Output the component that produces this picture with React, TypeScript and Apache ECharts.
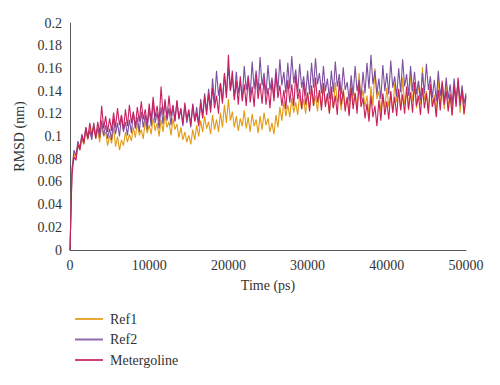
import React, { useEffect, useRef } from "react";
import * as echarts from "echarts";

const STEP_PS = 250;

const ref1: number[] = [
  0, 0.072, 0.085, 0.08, 0.092, 0.088, 0.098, 0.093, 0.104, 0.097,
  0.108, 0.1, 0.112, 0.098, 0.106, 0.095, 0.11, 0.1, 0.104, 0.092,
  0.101, 0.094, 0.108, 0.091, 0.1, 0.088, 0.097, 0.092, 0.104, 0.095,
  0.102, 0.096, 0.108, 0.099, 0.112, 0.101, 0.106, 0.098, 0.114, 0.103,
  0.11, 0.102, 0.117, 0.105, 0.112, 0.1, 0.115, 0.104, 0.119, 0.108,
  0.113, 0.101, 0.116, 0.106, 0.111, 0.099, 0.108, 0.097, 0.104, 0.095,
  0.101, 0.093, 0.106, 0.097, 0.11, 0.1, 0.114, 0.104, 0.118, 0.107,
  0.113, 0.102, 0.119, 0.106, 0.115, 0.104, 0.121, 0.108, 0.128, 0.112,
  0.133, 0.114, 0.122, 0.108, 0.118, 0.105, 0.116, 0.109, 0.123, 0.107,
  0.117, 0.104, 0.12, 0.109, 0.115, 0.103, 0.118, 0.106, 0.121, 0.11,
  0.116, 0.104, 0.112, 0.102, 0.119, 0.108, 0.126, 0.114, 0.131, 0.118,
  0.128, 0.117, 0.134, 0.121, 0.13, 0.119, 0.137, 0.124, 0.133, 0.12,
  0.138, 0.124, 0.142, 0.127, 0.136, 0.122, 0.14, 0.126, 0.145, 0.129,
  0.135, 0.121, 0.139, 0.125, 0.148, 0.13, 0.137, 0.123, 0.142, 0.127,
  0.134, 0.12, 0.15, 0.128, 0.139, 0.124, 0.156, 0.131, 0.141, 0.126,
  0.136, 0.118, 0.144, 0.127, 0.16, 0.133, 0.14, 0.122, 0.137, 0.125,
  0.143, 0.126, 0.138, 0.121, 0.147, 0.13, 0.141, 0.124, 0.152, 0.128,
  0.139, 0.123, 0.158, 0.131, 0.143, 0.125, 0.149, 0.128, 0.161, 0.132,
  0.14, 0.122, 0.146, 0.128, 0.137, 0.119, 0.152, 0.127, 0.141, 0.124,
  0.148, 0.126, 0.138, 0.118, 0.145, 0.129, 0.15, 0.121, 0.142, 0.119, 0.134,
];

const ref2: number[] = [
  0, 0.07, 0.088, 0.083, 0.096, 0.09, 0.102, 0.095, 0.108, 0.098,
  0.105, 0.097, 0.112, 0.1, 0.108, 0.099, 0.114, 0.101, 0.11, 0.098,
  0.107, 0.097, 0.116, 0.102, 0.112, 0.1, 0.118, 0.104, 0.113, 0.101,
  0.115, 0.103, 0.121, 0.107, 0.117, 0.104, 0.122, 0.108, 0.119, 0.106,
  0.124, 0.109, 0.13, 0.112, 0.121, 0.107, 0.126, 0.111, 0.133, 0.114,
  0.125, 0.11, 0.128, 0.113, 0.131, 0.115, 0.124, 0.109, 0.127, 0.112,
  0.122, 0.108, 0.129, 0.114, 0.126, 0.111, 0.133, 0.118, 0.138, 0.122,
  0.142, 0.125, 0.151, 0.13, 0.158, 0.136, 0.147, 0.131, 0.155, 0.137,
  0.161, 0.14, 0.152, 0.134, 0.157, 0.138, 0.149, 0.133, 0.162, 0.141,
  0.154, 0.136, 0.166, 0.142, 0.158, 0.139, 0.17, 0.145, 0.156, 0.137,
  0.163, 0.141, 0.152, 0.134, 0.16, 0.14, 0.168, 0.145, 0.157, 0.138,
  0.165, 0.142, 0.171, 0.147, 0.159, 0.139, 0.164, 0.143, 0.153, 0.136,
  0.158, 0.137, 0.165, 0.143, 0.169, 0.146, 0.156, 0.138, 0.162, 0.14,
  0.151, 0.133, 0.158, 0.139, 0.166, 0.144, 0.155, 0.137, 0.161, 0.141,
  0.148, 0.131, 0.154, 0.136, 0.162, 0.14, 0.15, 0.133, 0.157, 0.138,
  0.165, 0.142, 0.172, 0.146, 0.158, 0.137, 0.151, 0.133, 0.163, 0.14,
  0.156, 0.137, 0.167, 0.143, 0.153, 0.135, 0.16, 0.139, 0.168, 0.144,
  0.155, 0.136, 0.162, 0.14, 0.157, 0.137, 0.149, 0.132, 0.156, 0.138,
  0.164, 0.141, 0.153, 0.134, 0.15, 0.131, 0.158, 0.136, 0.147, 0.13,
  0.152, 0.133, 0.146, 0.128, 0.151, 0.132, 0.148, 0.127, 0.145, 0.129, 0.138,
];

const metergoline: number[] = [
  0, 0.066, 0.082, 0.079, 0.093, 0.088, 0.101, 0.094, 0.108, 0.099,
  0.112, 0.101, 0.109, 0.098, 0.113, 0.103, 0.127, 0.107, 0.118, 0.104,
  0.116, 0.105, 0.121, 0.108, 0.125, 0.11, 0.119, 0.106, 0.124, 0.109,
  0.128, 0.112, 0.122, 0.108, 0.126, 0.113, 0.131, 0.115, 0.124, 0.111,
  0.129, 0.114, 0.135, 0.117, 0.127, 0.113, 0.144, 0.119, 0.131, 0.116,
  0.136, 0.118, 0.127, 0.114, 0.132, 0.116, 0.125, 0.111, 0.13, 0.115,
  0.124, 0.11, 0.128, 0.113, 0.121, 0.109, 0.13, 0.116, 0.135, 0.119,
  0.138, 0.121, 0.143, 0.125, 0.136, 0.12, 0.147, 0.129, 0.156, 0.134,
  0.172, 0.141, 0.158, 0.132, 0.149, 0.128, 0.153, 0.131, 0.146, 0.127,
  0.152, 0.13, 0.144, 0.126, 0.155, 0.133, 0.147, 0.129, 0.151, 0.128,
  0.143, 0.125, 0.149, 0.131, 0.156, 0.134, 0.145, 0.127, 0.141, 0.124,
  0.15, 0.13, 0.146, 0.127, 0.154, 0.133, 0.142, 0.124, 0.148, 0.128,
  0.139, 0.122, 0.145, 0.127, 0.152, 0.13, 0.141, 0.123, 0.147, 0.126,
  0.138, 0.12, 0.144, 0.125, 0.136, 0.119, 0.149, 0.128, 0.14, 0.122,
  0.135, 0.118, 0.143, 0.124, 0.138, 0.12, 0.146, 0.126, 0.134, 0.116,
  0.129, 0.113, 0.136, 0.117, 0.127, 0.109, 0.132, 0.114, 0.138, 0.119,
  0.131, 0.115, 0.14, 0.121, 0.135, 0.118, 0.142, 0.123, 0.137, 0.12,
  0.144, 0.124, 0.139, 0.121, 0.148, 0.127, 0.136, 0.119, 0.143, 0.125,
  0.138, 0.12, 0.146, 0.126, 0.134, 0.117, 0.141, 0.123, 0.149, 0.128,
  0.14, 0.122, 0.137, 0.119, 0.145, 0.126, 0.152, 0.13, 0.141, 0.12, 0.136,
];

const seriesNames = ["Ref1", "Ref2", "Metergoline"];
const seriesColors = ["#E39A14", "#7E4F9F", "#C8205E"];
const seriesValues = [ref1, ref2, metergoline];

const FONT = "'Liberation Serif', 'DejaVu Serif', serif";

export default function App() {
  const ref = useRef<HTMLDivElement>(null);
  useEffect(() => {
    if (!ref.current) return;
    const chart = echarts.init(ref.current, undefined, { renderer: "svg" });
    chart.setOption({
      animation: false,
      backgroundColor: "#ffffff",
      textStyle: { fontFamily: FONT },
      grid: { left: 70, right: 34, top: 23, bottom: 135 },
      legend: {
        orient: "vertical",
        left: 70,
        top: 307,
        height: 70,
        icon: "rect",
        itemWidth: 28,
        itemHeight: 2,
        itemGap: 6.5,
        itemStyle: { opacity: 0.85 },
        textStyle: { fontFamily: FONT, fontSize: 14, color: "#333", lineHeight: 14, padding: [0, 0, 0, 2] },
        data: seriesNames,
      },
      xAxis: {
        type: "value",
        min: 0,
        max: 50000,
        interval: 10000,
        name: "Time (ps)",
        nameLocation: "middle",
        nameGap: 28,
        nameTextStyle: { fontFamily: FONT, fontSize: 14, color: "#333" },
        axisLine: { show: true, lineStyle: { color: "#595959", width: 1 } },
        axisTick: { show: false },
        splitLine: { show: false },
        axisLabel: { fontFamily: FONT, fontSize: 14, color: "#333", margin: 8, formatter: (v: number) => String(v) },
      },
      yAxis: {
        type: "value",
        min: 0,
        max: 0.2,
        interval: 0.02,
        name: "RMSD (nm)",
        nameLocation: "middle",
        nameGap: 41,
        nameTextStyle: { fontFamily: FONT, fontSize: 14, color: "#333" },
        axisLine: { show: true, lineStyle: { color: "#595959", width: 1 } },
        axisTick: { show: false },
        splitLine: { show: false },
        axisLabel: {
          fontFamily: FONT,
          fontSize: 14,
          color: "#333",
          margin: 8,
          formatter: (v: number) => String(parseFloat(v.toFixed(2))),
        },
      },
      series: seriesValues.map((vals, k) => ({
        name: seriesNames[k],
        type: "line",
        showSymbol: false,
        symbol: "none",
        color: seriesColors[k],
        lineStyle: { width: 1.1, color: seriesColors[k] },
        data: vals.map((v, i) => [i * STEP_PS, v]),
        z: 2 + k,
      })),
    });
    return () => chart.dispose();
  }, []);
  return (
    <div
      ref={ref}
      style={{ position: "absolute", left: 0, top: 0, width: 500, height: 385 }}
    />
  );
}
